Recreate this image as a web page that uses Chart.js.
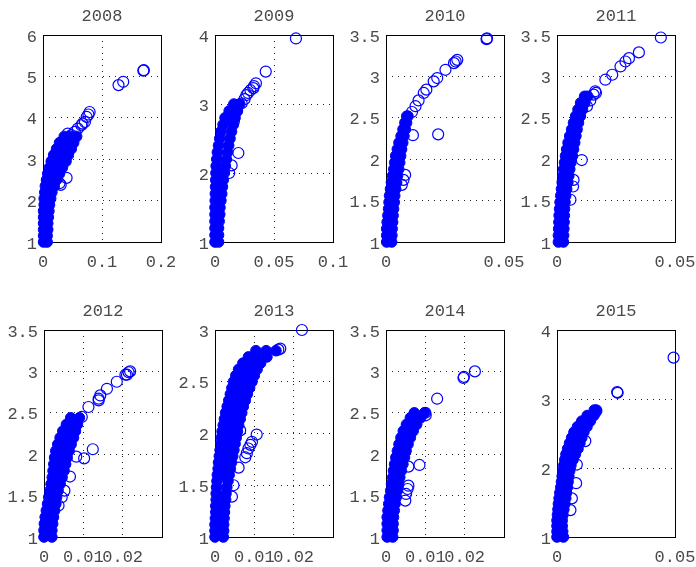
<!DOCTYPE html>
<html>
<head>
<meta charset="utf-8">
<script src="https://cdn.jsdelivr.net/npm/chart.js@4"></script>
<style>
  body { margin: 0; background: #fff; width: 696px; height: 567px; overflow: hidden; position: relative; }
  .cell { position: absolute; width: 204px; height: 277px; }
</style>
</head>
<body>
<div class="cell" style="left:0px;top:0px"><canvas id="c0" width="204" height="277"></canvas></div>
<div class="cell" style="left:172px;top:0px"><canvas id="c1" width="204" height="277"></canvas></div>
<div class="cell" style="left:343px;top:0px"><canvas id="c2" width="204" height="277"></canvas></div>
<div class="cell" style="left:514px;top:0px"><canvas id="c3" width="204" height="277"></canvas></div>
<div class="cell" style="left:1px;top:295px"><canvas id="c4" width="204" height="277"></canvas></div>
<div class="cell" style="left:172px;top:295px"><canvas id="c5" width="204" height="277"></canvas></div>
<div class="cell" style="left:343px;top:295px"><canvas id="c6" width="204" height="277"></canvas></div>
<div class="cell" style="left:514px;top:295px"><canvas id="c7" width="204" height="277"></canvas></div>
<script>
const years = ['2008', '2009', '2010', '2011', '2012', '2013', '2014', '2015'];
const xMax = [0.2, 0.1, 0.05, 0.05, 0.03, 0.03, 0.03, 0.05];
const yMax = [6, 4, 3.5, 3.5, 3.5, 3, 3.5, 4];
const xTicks = [[0, 0.1, 0.2], [0, 0.05, 0.1], [0, 0.05], [0, 0.05], [0, 0.01, 0.02], [0, 0.01, 0.02], [0, 0.01, 0.02], [0, 0.05]];
const yTicks = [[1, 2, 3, 4, 5, 6], [1, 2, 3, 4], [1, 1.5, 2, 2.5, 3, 3.5], [1, 1.5, 2, 2.5, 3, 3.5],
                [1, 1.5, 2, 2.5, 3, 3.5], [1, 1.5, 2, 2.5, 3], [1, 1.5, 2, 2.5, 3, 3.5], [1, 2, 3, 4]];

// dense part of each cloud (points so close they read as a solid band)
const band2008 = [[0.001,1.0],[0.007,1.0],[0.001,1.15],[0.007,1.15],[0.001,1.3],[0.008,1.3],[0.001,1.45],[0.008,1.45],
  [0.001,1.6],[0.009,1.6],[0.001,1.75],[0.010,1.75],[0.002,1.9],[0.011,1.9],[0.002,2.05],[0.013,2.05],
  [0.003,2.2],[0.015,2.2],[0.004,2.35],[0.011,2.35],[0.019,2.35],[0.006,2.5],[0.014,2.5],[0.023,2.5],
  [0.008,2.65],[0.018,2.65],[0.028,2.65],[0.011,2.8],[0.022,2.8],[0.033,2.8],[0.014,2.95],[0.026,2.95],[0.039,2.95],
  [0.018,3.1],[0.030,3.1],[0.043,3.1],[0.023,3.25],[0.035,3.25],[0.048,3.25],[0.028,3.4],[0.040,3.4],[0.052,3.4],
  [0.036,3.55],[0.046,3.55],[0.057,3.55]];
const pts2008 = [[0.042,3.62],[0.048,3.58],[0.054,3.66],[0.059,3.74],[0.065,3.82],[0.067,3.86],[0.071,3.9],[0.074,4.02],
  [0.077,4.08],[0.079,4.14],[0.028,2.42],[0.030,2.38],[0.040,2.55],[0.128,4.79],[0.136,4.87],[0.170,5.14],[0.171,5.15]];

const band2009 = [[0,1.0],[0.003,1.0],[0,1.1],[0.003,1.1],[0,1.2],[0.003,1.2],[0,1.3],[0.0035,1.3],[0,1.4],[0.004,1.4],
  [0,1.5],[0.0042,1.5],[0.0002,1.6],[0.005,1.6],[0.0003,1.7],[0.0057,1.7],[0.0005,1.8],[0.0063,1.8],[0.0006,1.9],[0.007,1.9],
  [0.0008,2.0],[0.0079,2.0],[0.001,2.1],[0.0088,2.1],[0.0015,2.2],[0.0097,2.2],[0.002,2.3],[0.0106,2.3],[0.003,2.4],[0.0116,2.4],
  [0.004,2.5],[0.0127,2.5],[0.005,2.6],[0.014,2.6],[0.0068,2.7],[0.0155,2.7],[0.0085,2.8],[0.017,2.8],[0.012,2.9],[0.019,2.9],
  [0.016,3.0],[0.021,3.0]];
const pts2009 = [[0.0226,3.01],[0.025,3.07],[0.0266,3.13],[0.028,3.16],[0.030,3.2],[0.0325,3.23],[0.033,3.26],[0.0347,3.3],
  [0.043,3.47],[0.0686,3.95],[0.0198,2.29],[0.0141,2.11],[0.012,2.0],[0.0185,2.9],[0.016,2.75]];

const band2010 = [[0.0003,1.0],[0.0024,1.0],[0.0003,1.08],[0.0025,1.08],[0.0003,1.16],[0.0026,1.16],[0.0005,1.24],[0.0028,1.24],
  [0.0008,1.32],[0.003,1.32],[0.0011,1.4],[0.0032,1.4],[0.0013,1.48],[0.0035,1.48],[0.0015,1.56],[0.0037,1.56],
  [0.0019,1.64],[0.0041,1.64],[0.0023,1.72],[0.0045,1.72],[0.0028,1.8],[0.0049,1.8],[0.0033,1.88],[0.0054,1.88],
  [0.0037,1.96],[0.0058,1.96],[0.0041,2.04],[0.0062,2.04],[0.0048,2.12],[0.0066,2.12],[0.0055,2.2],[0.0071,2.2],
  [0.0064,2.28],[0.0076,2.28],[0.0072,2.36],[0.0082,2.36],[0.008,2.44],[0.0087,2.44],[0.0088,2.52],[0.0093,2.52]];
const pts2010 = [[0.011,2.57],[0.0125,2.64],[0.0138,2.71],[0.016,2.8],[0.0171,2.84],[0.0202,2.94],[0.0217,2.98],[0.0252,3.08],
  [0.0288,3.16],[0.0295,3.18],[0.0302,3.2],[0.0426,3.45],[0.0428,3.46],[0.0221,2.3],[0.0114,2.29],[0.0081,1.81],
  [0.0074,1.75],[0.0067,1.69]];

const band2011 = [[0.0006,1.0],[0.0027,1.0],[0.0006,1.08],[0.0028,1.08],[0.0007,1.16],[0.0029,1.16],[0.0008,1.24],[0.003,1.24],
  [0.0009,1.32],[0.0031,1.32],[0.0011,1.4],[0.0032,1.4],[0.0013,1.48],[0.0034,1.48],[0.0016,1.56],[0.0037,1.56],
  [0.0019,1.64],[0.0041,1.64],[0.0022,1.72],[0.0046,1.72],[0.0025,1.8],[0.005,1.8],[0.0028,1.88],[0.0054,1.88],
  [0.0032,1.96],[0.0059,1.96],[0.0036,2.04],[0.0065,2.04],[0.0041,2.12],[0.007,2.12],[0.0047,2.2],[0.0075,2.2],
  [0.0054,2.28],[0.008,2.28],[0.0062,2.36],[0.0085,2.36],[0.007,2.44],[0.0091,2.44],[0.0079,2.52],[0.0099,2.52],
  [0.0089,2.6],[0.0108,2.6],[0.010,2.68],[0.0118,2.68],[0.0117,2.76],[0.013,2.76]];
const pts2011 = [[0.0127,2.64],[0.0141,2.71],[0.0155,2.78],[0.0162,2.82],[0.0165,2.8],[0.0205,2.96],[0.0234,3.02],[0.0269,3.12],
  [0.029,3.18],[0.0305,3.22],[0.0347,3.29],[0.044,3.47],[0.0105,1.99],[0.007,1.75],[0.0068,1.67],[0.0057,1.51]];

const band2012 = [[0,1.0],[0.002,1.0],[0,1.08],[0.002,1.08],[0.0001,1.16],[0.0022,1.16],[0.0003,1.24],[0.0024,1.24],
  [0.0006,1.32],[0.0027,1.32],[0.0009,1.4],[0.003,1.4],[0.0012,1.48],[0.0032,1.48],[0.0015,1.56],[0.0036,1.56],
  [0.0018,1.64],[0.0041,1.64],[0.0021,1.72],[0.0046,1.72],[0.0023,1.8],[0.0037,1.8],[0.0051,1.8],
  [0.0025,1.88],[0.004,1.88],[0.0055,1.88],[0.0027,1.96],[0.0043,1.96],[0.0059,1.96],[0.003,2.04],[0.0047,2.04],[0.0064,2.04],
  [0.0035,2.12],[0.0052,2.12],[0.0069,2.12],[0.0041,2.2],[0.0058,2.2],[0.0075,2.2],[0.0048,2.28],[0.0064,2.28],[0.008,2.28],
  [0.0057,2.36],[0.0071,2.36],[0.0085,2.36],[0.0068,2.44],[0.009,2.44]];
const pts2012 = [[0.0096,2.45],[0.0113,2.57],[0.0139,2.65],[0.0139,2.67],[0.0143,2.71],[0.016,2.79],[0.0185,2.875],[0.0207,2.96],
  [0.0211,2.96],[0.0215,2.99],[0.0219,3.0],[0.0082,1.97],[0.0102,1.95],[0.0124,2.06],[0.0066,1.73],[0.0052,1.56],
  [0.0045,1.48],[0.0037,1.38]];

const band2013 = [[0,1.0],[0.0021,1.0],[0,1.06],[0.0022,1.06],[0,1.12],[0.0022,1.12],[0.0001,1.18],[0.0023,1.18],
  [0.0002,1.24],[0.0024,1.24],[0.0002,1.3],[0.0025,1.3],[0.0003,1.36],[0.0027,1.36],[0.0003,1.42],[0.0028,1.42],
  [0.0004,1.48],[0.003,1.48],[0.0005,1.54],[0.0033,1.54],[0.0006,1.6],[0.0021,1.6],[0.0036,1.6],
  [0.0008,1.66],[0.0023,1.66],[0.0039,1.66],[0.0009,1.72],[0.0025,1.72],[0.0042,1.72],[0.0011,1.78],[0.0028,1.78],[0.0045,1.78],
  [0.0013,1.84],[0.003,1.84],[0.0048,1.84],[0.0015,1.9],[0.0033,1.9],[0.0051,1.9],[0.0016,1.96],[0.0035,1.96],[0.0054,1.96],
  [0.0018,2.02],[0.0037,2.02],[0.0057,2.02],[0.0021,2.08],[0.004,2.08],[0.006,2.08],[0.0024,2.14],[0.0044,2.14],[0.0064,2.14],
  [0.0027,2.2],[0.0047,2.2],[0.0068,2.2],[0.0031,2.26],[0.0051,2.26],[0.0072,2.26],[0.0035,2.32],[0.0056,2.32],[0.0077,2.32],
  [0.0039,2.38],[0.006,2.38],[0.0082,2.38],[0.0043,2.44],[0.0065,2.44],[0.0088,2.44],[0.0047,2.5],[0.007,2.5],[0.0094,2.5],
  [0.0053,2.56],[0.0076,2.56],[0.010,2.56],[0.006,2.62],[0.0083,2.62],[0.0107,2.62],[0.0071,2.68],[0.0093,2.68],[0.0116,2.68],
  [0.0085,2.74],[0.0108,2.74],[0.0132,2.74],[0.0104,2.8],[0.013,2.8],[0.0155,2.8]];
const pts2013 = [[0.0161,2.81],[0.0166,2.82],[0.0221,3.0],[0.0106,1.99],[0.0094,1.92],[0.009,1.89],[0.0085,1.855],[0.0081,1.81],
  [0.0077,1.77],[0.006,1.67],[0.0047,1.5],[0.0043,1.39],[0.0064,2.03]];

const band2014 = [[0.0003,1.0],[0.0017,1.0],[0.0003,1.08],[0.0018,1.08],[0.0003,1.16],[0.0018,1.16],[0.0003,1.24],[0.0019,1.24],
  [0.0005,1.32],[0.0021,1.32],[0.0007,1.4],[0.0023,1.4],[0.0009,1.48],[0.0026,1.48],[0.0012,1.56],[0.0029,1.56],
  [0.0014,1.64],[0.0032,1.64],[0.0017,1.72],[0.0035,1.72],[0.0019,1.8],[0.0039,1.8],[0.0022,1.88],[0.0043,1.88],
  [0.0025,1.96],[0.0047,1.96],[0.0029,2.04],[0.0051,2.04],[0.0033,2.12],[0.0056,2.12],[0.0038,2.2],[0.0062,2.2],
  [0.0044,2.28],[0.0069,2.28],[0.0052,2.36],[0.0078,2.36],[0.0062,2.44],[0.0088,2.44],[0.0072,2.5],[0.0098,2.5]];
const pts2014 = [[0.010,2.5],[0.0101,2.47],[0.013,2.67],[0.0197,2.92],[0.0198,2.935],[0.0226,3.0],[0.0085,1.87],[0.0057,1.85],
  [0.0057,1.62],[0.0055,1.58],[0.0051,1.52],[0.0049,1.44]];

const band2015 = [[0,1.0],[0.0027,1.0],[0,1.08],[0.0024,1.08],[0,1.16],[0.0022,1.16],[0,1.24],[0.0022,1.24],
  [0.0002,1.32],[0.0025,1.32],[0.0004,1.4],[0.0029,1.4],[0.0006,1.48],[0.0033,1.48],[0.0009,1.56],[0.0037,1.56],
  [0.0012,1.64],[0.004,1.64],[0.0016,1.72],[0.0044,1.72],[0.0019,1.8],[0.0047,1.8],[0.0022,1.88],[0.005,1.88],
  [0.0025,1.96],[0.0054,1.96],[0.0029,2.04],[0.0059,2.04],[0.0033,2.12],[0.0068,2.12],[0.0038,2.2],[0.0078,2.2],
  [0.0045,2.28],[0.0089,2.28],[0.0053,2.36],[0.0097,2.36],[0.0062,2.44],[0.0105,2.44],[0.0072,2.52],[0.0114,2.52],
  [0.0087,2.6],[0.0127,2.6],[0.0105,2.68],[0.0141,2.68],[0.0128,2.76],[0.0156,2.76],[0.0158,2.84],[0.0166,2.84]];
const pts2015 = [[0.0167,2.83],[0.0163,2.81],[0.0255,3.1],[0.0257,3.09],[0.0494,3.6],[0.012,2.39],[0.0084,2.05],
  [0.0081,1.78],[0.0063,1.56],[0.0057,1.39]];

const bands = [band2008, band2009, band2010, band2011, band2012, band2013, band2014, band2015];
const rings = [pts2008, pts2009, pts2010, pts2011, pts2012, pts2013, pts2014, pts2015];

const textFont = { family: "'Liberation Mono', 'DejaVu Sans Mono', monospace", size: 17 };
const textColor = '#4a4a4a';

// black frame round the plot area, drawn under the markers
const boxPlugin = {
    id: 'box',
    beforeDatasetsDraw(chart) {
        const a = chart.chartArea;
        const ctx = chart.ctx;
        ctx.save();
        ctx.strokeStyle = '#000';
        ctx.lineWidth = 1;
        ctx.strokeRect(Math.round(a.left) + 0.5, Math.round(a.top) + 0.5, Math.round(a.right - a.left), Math.round(a.bottom - a.top));
        ctx.restore();
    }
};

function toXY(list) {
    return list.map(p => ({ x: p[0], y: p[1] }));
}

for (let i = 0; i < years.length; i++) {
    new Chart(document.getElementById('c' + i), {
        type: 'scatter',
        data: {
            datasets: [{
                data: toXY(bands[i]),
                pointRadius: 5.3,
                pointBackgroundColor: '#0000ff',
                pointBorderColor: '#0000ff',
                pointBorderWidth: 1,
                clip: false
            }, {
                data: toXY(rings[i]),
                pointRadius: 5.5,
                pointBackgroundColor: 'rgba(0,0,0,0)',
                pointBorderColor: '#0000ff',
                pointBorderWidth: 1.2,
                clip: false
            }]
        },
        options: {
            responsive: false,
            animation: false,
            devicePixelRatio: 1,
            layout: { padding: 0 },
            plugins: {
                legend: { display: false },
                tooltip: { enabled: false },
                title: {
                    display: true,
                    text: years[i],
                    color: textColor,
                    font: { family: textFont.family, size: 17, weight: 'normal' },
                    padding: { top: 6, bottom: 8.6 }
                }
            },
            scales: {
                x: {
                    type: 'linear',
                    min: 0,
                    max: xMax[i],
                    afterBuildTicks: s => { s.ticks = xTicks[i].map(v => ({ value: v })); },
                    afterFit: s => { s.height = 35; },
                    grid: { color: '#222', lineWidth: 1, drawTicks: false },
                    border: { display: false, dash: [1, 5] },
                    ticks: {
                        autoSkip: false, maxRotation: 0, minRotation: 0, padding: 10,
                        color: textColor, font: textFont,
                        callback: v => String(v)
                    }
                },
                y: {
                    type: 'linear',
                    min: 1,
                    max: yMax[i],
                    afterBuildTicks: s => { s.ticks = yTicks[i].map(v => ({ value: v })); },
                    afterFit: s => { s.width = 43; },
                    grid: { color: '#222', lineWidth: 1, drawTicks: false },
                    border: { display: false, dash: [1, 5] },
                    ticks: {
                        autoSkip: false, padding: 6, labelOffset: 2,
                        color: textColor, font: textFont,
                        callback: v => String(v)
                    }
                },
                // empty right-hand strip so the title sits centred over the plot
                yPad: {
                    type: 'linear',
                    position: 'right',
                    min: 0,
                    max: 1,
                    afterFit: s => { s.width = 43; },
                    grid: { display: false },
                    border: { display: false },
                    ticks: { display: false }
                }
            }
        },
        plugins: [boxPlugin]
    });
}
</script>
</body>
</html>
